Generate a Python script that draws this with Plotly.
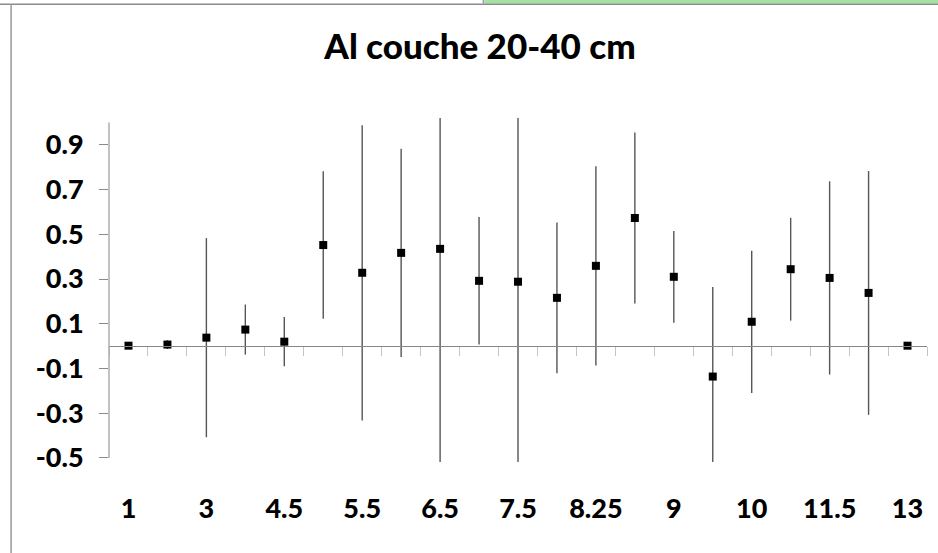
import plotly.graph_objects as go

# Sampling depths (category labels) and mean values with their error half-widths
categories = ["1", "2", "3", "4", "4.5", "5", "5.5", "6", "6.5", "7", "7.5",
              "8", "8.25", "8.5", "9", "9.5", "10", "11", "11.5", "12", "13"]
values = [0.002, 0.007, 0.038, 0.074, 0.020, 0.452, 0.328, 0.417, 0.435, 0.292, 0.288,
          0.216, 0.359, 0.573, 0.310, -0.136, 0.109, 0.344, 0.305, 0.238, 0.002]
errors = [0.0, 0.02, 0.445, 0.112, 0.11, 0.33, 0.66, 0.465, 1.0, 0.285, 0.85,
          0.337, 0.445, 0.382, 0.205, 0.40, 0.318, 0.23, 0.432, 0.545, 0.0]
y_ticks = [-0.5, -0.3, -0.1, 0.1, 0.3, 0.5, 0.7, 0.9]
x_label_ticks = categories[::2]

W, H = 938, 553
ML, MR, MT, MB = 108.7, 11.3, 118.2, 90.7
Y_RANGE = [-0.518, 1.02]
PW, PH = W - ML - MR, H - MT - MB

def px_x(px):
    return (px - ML) / PW

def px_y(py):
    return (H - MB - py) / PH

FONT = "Lato, 'Open Sans', sans-serif"

fig = go.Figure()

# Data points with vertical error bars
fig.add_trace(go.Scatter(
    x=categories, y=values, mode="markers",
    marker=dict(symbol="square", size=8, color="#000000"),
    error_y=dict(type="data", array=errors, visible=True, width=0,
                 thickness=1.4, color="#555555"),
    xaxis="x", yaxis="y", hoverinfo="skip", showlegend=False,
))

# Invisible helper trace so the zero-crossing axis is rendered
fig.add_trace(go.Scatter(
    x=categories, y=values, mode="markers", marker=dict(opacity=0),
    xaxis="x2", yaxis="y", hoverinfo="skip", showlegend=False,
))

zero_pos = (0 - Y_RANGE[0]) / (Y_RANGE[1] - Y_RANGE[0])

fig.update_layout(
    width=W, height=H,
    margin=dict(l=ML, r=MR, t=MT, b=MB, pad=0),
    paper_bgcolor="white", plot_bgcolor="white",
    title=dict(text="Al couche 20-40 cm", x=480 / W, xref="container", xanchor="center",
               y=1 - 47 / H, yref="container", yanchor="middle",
               font=dict(family=FONT, size=35, color="#000000", weight=900)),
    xaxis=dict(
        type="category", categoryorder="array", categoryarray=categories,
        range=[-0.5, len(categories) - 0.5],
        tickmode="array", tickvals=x_label_ticks, ticktext=x_label_ticks,
        showline=False, showgrid=False, zeroline=False, ticks="",
        ticklabelstandoff=28,
        tickfont=dict(family=FONT, size=27, color="#000000", weight=900),
    ),
    xaxis2=dict(
        type="category", categoryorder="array", categoryarray=categories,
        overlaying="x", anchor="free", position=zero_pos, matches="x",
        range=[-0.5, len(categories) - 0.5],
        showline=True, linecolor="#868686", linewidth=1.3,
        ticks="outside", tickson="boundaries", ticklen=9, tickwidth=1.2,
        tickcolor="#c4c4c4", showticklabels=False, showgrid=False, zeroline=False,
    ),
    yaxis=dict(
        range=Y_RANGE, tickmode="array", tickvals=y_ticks,
        ticktext=[f"{v:.1f}" for v in y_ticks],
        showline=False, showgrid=False, zeroline=False,
        ticks="outside", ticklen=9, tickwidth=1.2, tickcolor="#8a8a8a",
        ticklabelstandoff=10,
        tickfont=dict(family=FONT, size=27, color="#000000", weight=900),
    ),
    shapes=[
        # vertical axis line spanning the value range
        dict(type="line", xref="paper", yref="y", x0=0, x1=0, y0=-0.5, y1=1.0,
             line=dict(color="#a8a8a8", width=1.4)),
        # window frame: green band, top border and left border
        dict(type="rect", xref="paper", yref="paper", x0=px_x(484), x1=px_x(940),
             y0=px_y(4), y1=px_y(-2), fillcolor="#a2e3a2", line=dict(width=0)),
        dict(type="line", xref="paper", yref="paper", x0=px_x(483), x1=px_x(483),
             y0=px_y(4), y1=px_y(-2), line=dict(color="#8c8c8c", width=1.2)),
        dict(type="line", xref="paper", yref="paper", x0=px_x(-2), x1=px_x(940),
             y0=px_y(4.4), y1=px_y(4.4), line=dict(color="#8c8c8c", width=1.6)),
        dict(type="line", xref="paper", yref="paper", x0=px_x(10.8), x1=px_x(10.8),
             y0=px_y(4.4), y1=px_y(556), line=dict(color="#a0a0a0", width=1.6)),
    ],
)

fig.write_html("out.html")
